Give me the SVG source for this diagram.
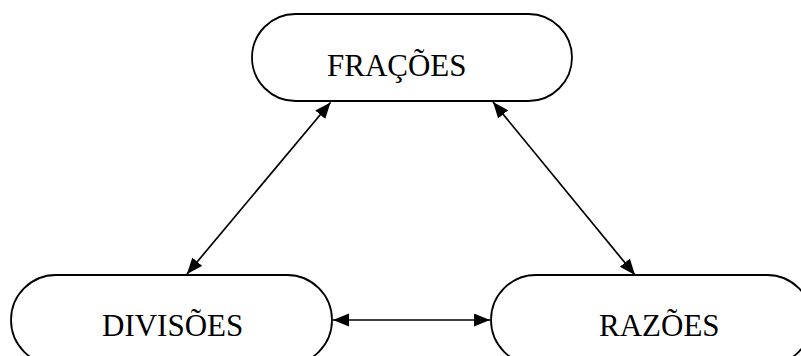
<svg xmlns="http://www.w3.org/2000/svg" width="801" height="356" viewBox="0 0 801 356">
  <style>
    .pill { fill: #ffffff; stroke: #000000; stroke-width: 1.8; }
    .label { font-family: "Liberation Serif", "Times New Roman", serif; font-size: 31px; fill: #000000; }
    .link { stroke: #000000; stroke-width: 1.7; fill: none; marker-start: url(#arrow); marker-end: url(#arrow); }
  </style>
  <defs>
    <marker id="arrow" markerUnits="userSpaceOnUse" markerWidth="17" markerHeight="14" refX="16" refY="6.5" orient="auto-start-reverse">
      <path d="M0,0 L16,6.5 L0,13 Z" fill="#000000"/>
    </marker>
  </defs>

  <rect width="801" height="356" fill="#ffffff"/>

  <g id="fracoes">
    <rect class="pill" x="252" y="14" width="320" height="87" rx="43.5" ry="43.5"/>
    <text class="label" x="327" y="76">FRAÇÕES</text>
  </g>

  <g id="divisoes">
    <rect class="pill" x="11" y="275" width="321" height="90" rx="45" ry="45"/>
    <text class="label" x="102" y="336">DIVISÕES</text>
  </g>

  <g id="razoes">
    <rect class="pill" x="491" y="275" width="321" height="90" rx="45" ry="45"/>
    <text class="label" x="599" y="336">RAZÕES</text>
  </g>

  <g id="connectors">
    <line class="link" x1="330.5" y1="102.5" x2="187" y2="274"/>
    <line class="link" x1="493" y1="102" x2="635" y2="275"/>
    <line class="link" x1="333" y1="320" x2="490" y2="320"/>
  </g>
</svg>
